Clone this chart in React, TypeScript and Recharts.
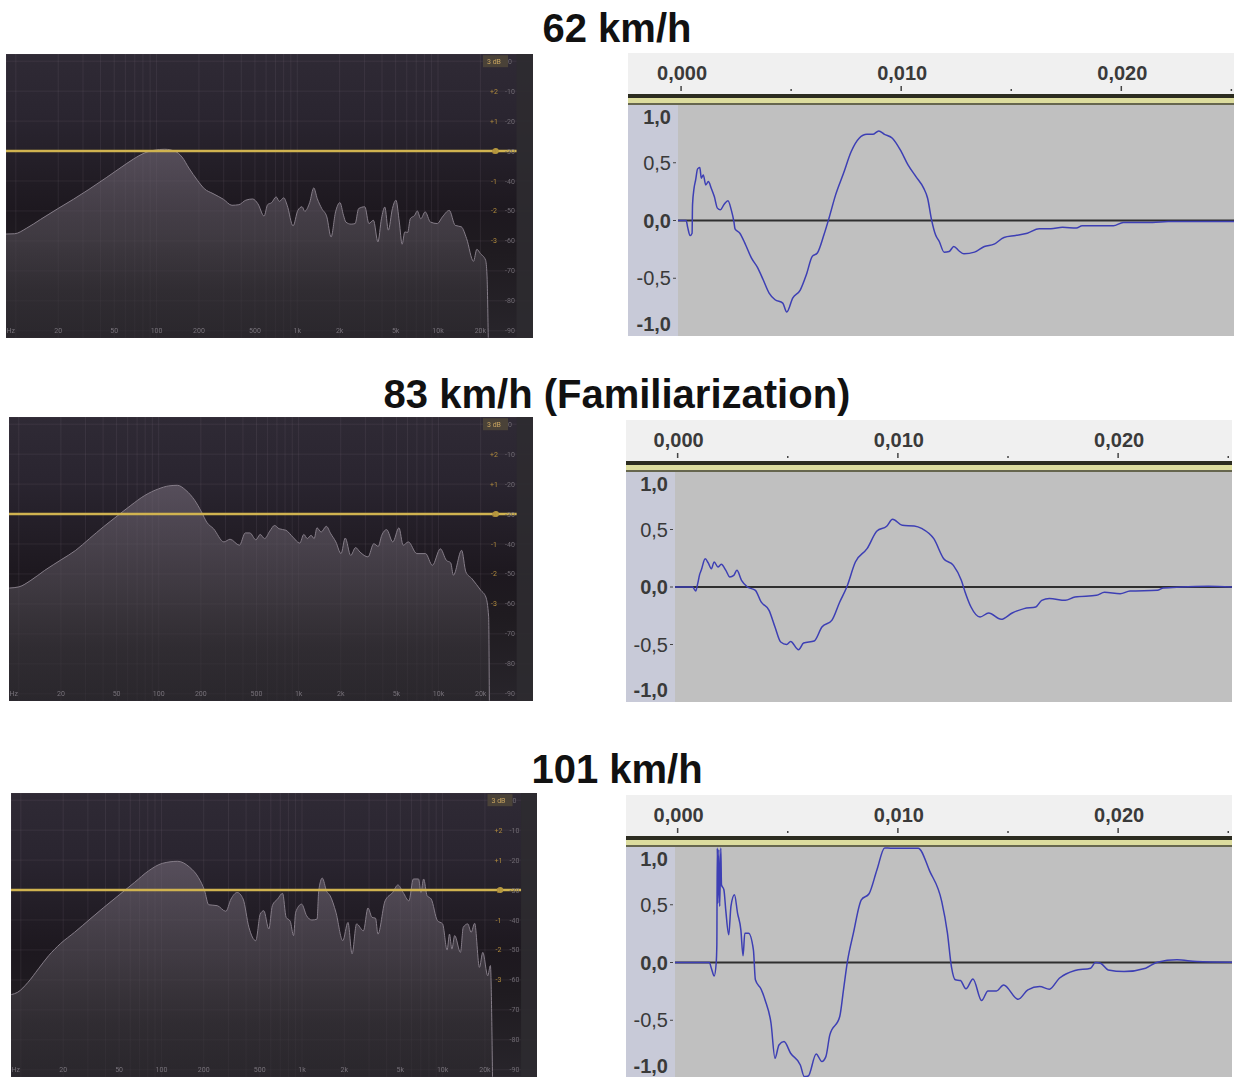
import React from "react";
import {
  AreaChart, Area, LineChart, Line, CartesianGrid, XAxis, YAxis,
  ReferenceLine, ReferenceArea, ReferenceDot,
} from "recharts";

// spectrum panels: x is log10(Hz), y is dB
const logHz62 = [0.93, 0.992, 1.078, 1.176, 1.299, 1.409, 1.519, 1.642, 1.74, 1.838, 1.911, 1.985, 2.058, 2.132, 2.181, 2.23, 2.291, 2.34, 2.401, 2.475, 2.536, 2.585, 2.634, 2.683, 2.72, 2.764, 2.789, 2.818, 2.85, 2.872, 2.904, 2.928, 2.97, 3.004, 3.034, 3.053, 3.088, 3.117, 3.142, 3.174, 3.21, 3.24, 3.272, 3.303, 3.328, 3.345, 3.382, 3.411, 3.436, 3.48, 3.509, 3.541, 3.573, 3.598, 3.622, 3.647, 3.676, 3.701, 3.725, 3.745, 3.764, 3.784, 3.803, 3.835, 3.853, 3.877, 3.909, 3.946, 3.995, 4.031, 4.08, 4.122, 4.166, 4.203, 4.252, 4.276, 4.301, 4.338, 4.348, 4.357];
const db62 = [-57.7, -57.6, -55.7, -52.8, -49.2, -46.1, -42.8, -38.9, -35.7, -32.6, -30.7, -29.7, -29.4, -30.1, -32, -35.7, -39.8, -42.6, -44.2, -46.1, -48.1, -47.9, -46.4, -46, -47.6, -51.7, -47.9, -47.2, -45.3, -46.8, -45.6, -48.1, -55, -49.8, -48.6, -50.1, -47.2, -42.3, -45.9, -49.2, -52, -58.7, -50.3, -47.2, -51.4, -53.7, -54.4, -54.2, -49.2, -48.6, -54.2, -53.1, -60.3, -52.6, -48.7, -56.4, -49.2, -46.4, -53.7, -61.1, -57, -57.2, -52.6, -51.4, -50, -52.6, -50.3, -53.7, -54.2, -52, -49.8, -54.8, -55.3, -59.2, -66.8, -62.8, -64.2, -66.4, -71.4, -92.3];

const logHz83 = [0.932, 1.001, 1.087, 1.185, 1.308, 1.407, 1.505, 1.604, 1.702, 1.801, 1.9, 1.998, 2.072, 2.133, 2.195, 2.257, 2.306, 2.343, 2.392, 2.466, 2.51, 2.577, 2.619, 2.651, 2.695, 2.725, 2.757, 2.794, 2.828, 2.86, 2.909, 2.959, 3.008, 3.037, 3.062, 3.089, 3.111, 3.131, 3.161, 3.198, 3.23, 3.266, 3.303, 3.333, 3.372, 3.407, 3.439, 3.496, 3.537, 3.569, 3.594, 3.629, 3.673, 3.717, 3.747, 3.784, 3.845, 3.907, 3.956, 4.013, 4.055, 4.087, 4.106, 4.165, 4.195, 4.239, 4.301, 4.338, 4.358, 4.363];
const db83 = [-54.7, -54.3, -52.1, -48.8, -45.1, -42.1, -38.2, -34.3, -30.7, -27.1, -23.8, -21.6, -20.6, -20.4, -22.1, -25.4, -29.3, -32.7, -34.9, -39.3, -38.4, -40.4, -36.3, -36.3, -38.6, -36.8, -38.2, -35.7, -33.8, -34.9, -35.4, -37.7, -39.7, -36.8, -38.2, -37.1, -38.2, -34.6, -36, -34.1, -36.6, -39.3, -43.2, -38, -43.8, -41.2, -42.7, -44.3, -39.9, -40.8, -37.1, -35.2, -39.3, -34.6, -40.4, -39.3, -43.2, -43.2, -47.1, -41.6, -45.4, -46.3, -50.4, -42.1, -49.3, -51.6, -55.4, -57.7, -64.3, -92.3];

const logHz101 = [0.932, 0.978, 1.051, 1.125, 1.198, 1.284, 1.382, 1.492, 1.59, 1.7, 1.81, 1.908, 2.006, 2.116, 2.201, 2.263, 2.307, 2.336, 2.397, 2.458, 2.495, 2.539, 2.581, 2.622, 2.671, 2.703, 2.728, 2.764, 2.789, 2.826, 2.862, 2.887, 2.916, 2.94, 2.955, 2.997, 3.033, 3.07, 3.107, 3.119, 3.144, 3.175, 3.2, 3.241, 3.29, 3.327, 3.356, 3.388, 3.437, 3.469, 3.498, 3.523, 3.54, 3.591, 3.645, 3.682, 3.719, 3.76, 3.792, 3.829, 3.846, 3.865, 3.89, 3.919, 3.963, 4.0, 4.032, 4.049, 4.066, 4.086, 4.127, 4.147, 4.179, 4.203, 4.228, 4.262, 4.286, 4.321, 4.34, 4.355];
const db101 = [-64.9, -64.1, -60.8, -56.3, -51.9, -47.8, -44.1, -39.7, -35.8, -31.6, -27.4, -23.6, -21.1, -20.4, -22.4, -25.8, -30.2, -34.9, -35.2, -37.1, -33, -30.8, -33, -42.4, -46.9, -38, -36.9, -43, -35.2, -33, -31.1, -39.1, -40.4, -45.2, -37.4, -34.7, -38.6, -40, -39.7, -30.2, -26, -30.4, -31.9, -37.4, -46.9, -40.8, -51.3, -41.3, -43.6, -36, -39.1, -39.4, -44.7, -33.6, -30.8, -28.3, -30.8, -33.6, -26.3, -26.3, -30.8, -26.3, -31.9, -33, -40.2, -41.3, -50, -44.7, -49.7, -45.2, -50.8, -42.4, -41.3, -44.1, -41.1, -55.8, -50.8, -58.6, -55.2, -92.3];

const gridHz = [10, 20, 30, 40, 50, 60, 70, 80, 90, 100, 200, 300, 400, 500, 600, 700, 800, 900, 1000, 2000, 3000, 4000, 5000, 6000, 7000, 8000, 9000, 10000, 20000];
const hzLabels: Record<number, string> = { 10: "Hz", 20: "20", 50: "50", 100: "100", 200: "200", 500: "500", 1000: "1k", 2000: "2k", 5000: "5k", 10000: "10k", 20000: "20k" };
const dbTicks = [0, -10, -20, -30, -40, -50, -60, -70, -80, -90];
const gainLabels: Record<number, string> = { [-10]: "+2", [-20]: "+1", [-30]: "0", [-40]: "-1", [-50]: "-2", [-60]: "-3" };

// waveform panels: x in milliseconds, y is amplitude
const ms62 = [-0.14, 0.23, 0.3, 0.41, 0.5, 0.52, 0.59, 0.66, 0.75, 0.85, 0.92, 1.01, 1.12, 1.24, 1.37, 1.51, 1.65, 1.78, 1.96, 2.13, 2.28, 2.4, 2.45, 2.67, 2.93, 3.2, 3.47, 3.73, 4.0, 4.27, 4.62, 4.8, 5.07, 5.42, 5.69, 5.96, 6.19, 6.49, 6.72, 7.02, 7.38, 7.73, 8.09, 8.44, 8.71, 8.98, 9.24, 9.6, 9.96, 10.31, 10.67, 11.02, 11.2, 11.38, 11.56, 11.73, 11.95, 12.18, 12.39, 12.62, 12.85, 13.33, 13.78, 14.22, 14.67, 15.2, 15.73, 16.27, 16.8, 17.33, 17.96, 18.22, 19.64, 20.09, 21.42, 22.13, 25.12];
const amp62 = [0, 0, -0.06, -0.13, -0.11, 0.135, 0.28, 0.35, 0.447, 0.458, 0.366, 0.395, 0.308, 0.337, 0.28, 0.207, 0.107, 0.092, 0.141, 0.17, 0.092, -0.009, -0.072, -0.11, -0.21, -0.326, -0.406, -0.513, -0.628, -0.686, -0.715, -0.793, -0.672, -0.6, -0.47, -0.311, -0.282, -0.124, 0.02, 0.222, 0.409, 0.597, 0.712, 0.746, 0.746, 0.775, 0.746, 0.712, 0.611, 0.481, 0.38, 0.28, 0.193, 0.006, -0.124, -0.182, -0.274, -0.268, -0.225, -0.262, -0.288, -0.274, -0.225, -0.205, -0.147, -0.13, -0.11, -0.072, -0.072, -0.058, -0.066, -0.046, -0.046, -0.017, -0.017, -0.009, -0.009];

const ms83 = [-0.12, 0.68, 0.82, 0.91, 1.0, 1.07, 1.25, 1.39, 1.53, 1.66, 1.83, 1.98, 2.19, 2.37, 2.55, 2.69, 2.9, 3.17, 3.53, 3.79, 4.15, 4.42, 4.68, 4.95, 5.13, 5.49, 5.72, 6.2, 6.55, 7.0, 7.36, 7.68, 8.07, 8.6, 9.05, 9.49, 9.76, 10.2, 10.74, 11.1, 11.63, 12.08, 12.52, 12.88, 13.05, 13.32, 13.73, 14.12, 14.69, 15.19, 15.73, 16.26, 16.53, 16.88, 17.6, 18.04, 19.02, 19.38, 20.09, 20.54, 21.78, 22.05, 22.85, 24.1, 25.17];
const amp83 = [0, 0, -0.035, 0.029, 0.11, 0.145, 0.246, 0.209, 0.159, 0.217, 0.174, 0.197, 0.145, 0.087, 0.101, 0.145, 0.058, 0, -0.029, -0.13, -0.203, -0.348, -0.478, -0.499, -0.473, -0.545, -0.487, -0.47, -0.348, -0.29, -0.13, 0, 0.217, 0.333, 0.487, 0.528, 0.589, 0.536, 0.531, 0.507, 0.42, 0.246, 0.188, 0.058, -0.043, -0.174, -0.261, -0.226, -0.281, -0.226, -0.188, -0.174, -0.116, -0.101, -0.116, -0.087, -0.072, -0.046, -0.058, -0.035, -0.029, -0.009, 0, 0.006, 0];

const ms101 = [-0.12, 1.44, 1.53, 1.66, 1.75, 1.78, 1.8, 1.83, 1.87, 1.91, 1.96, 1.99, 2.1, 2.19, 2.32, 2.42, 2.58, 2.72, 2.87, 2.97, 3.05, 3.22, 3.44, 3.53, 3.79, 3.97, 4.24, 4.42, 4.6, 4.83, 5.13, 5.57, 5.75, 5.93, 6.29, 6.55, 6.73, 6.91, 7.36, 7.53, 7.71, 7.98, 8.34, 8.69, 9.05, 9.4, 9.67, 10.92, 11.45, 11.99, 12.25, 12.43, 12.61, 12.84, 13.09, 13.41, 13.8, 14.09, 14.48, 14.8, 15.46, 15.9, 16.44, 16.88, 17.33, 18.04, 18.75, 18.97, 19.2, 19.55, 20.27, 21.25, 21.78, 22.67, 23.56, 25.17];
const amp101 = [0, 0, -0.049, -0.116, -0.006, 0.153, 0.991, 0.514, 0.977, 0.486, 0.991, 0.673, 0.63, 0.442, 0.24, 0.486, 0.587, 0.428, 0.283, 0.058, 0.254, 0.254, 0.11, -0.15, -0.231, -0.324, -0.526, -0.829, -0.714, -0.685, -0.786, -0.887, -0.988, -0.983, -0.792, -0.858, -0.815, -0.627, -0.468, -0.237, 0.009, 0.254, 0.543, 0.595, 0.803, 0.991, 0.99, 0.99, 0.789, 0.529, 0.254, -0.035, -0.15, -0.156, -0.228, -0.142, -0.329, -0.246, -0.246, -0.194, -0.318, -0.237, -0.208, -0.231, -0.136, -0.069, -0.049, 0, -0.006, -0.064, -0.078, -0.049, 0.003, 0.023, 0.009, 0.003];

const msTicks = [0, 5, 10, 15, 20, 25];
const ampTicks = [-1, -0.5, 0, 0.5, 1];

const zip = (xs: number[], ys: number[], xKey: string, yKey: string) =>
  xs.map((x, i) => ({ [xKey]: x, [yKey]: ys[i] }));

const comma = (n: number, digits: number) => n.toFixed(digits).replace(".", ",");

function Spectrum({ id, left, top, width, xs, ys }: { id: string; left: number; top: number; width: number; xs: number[]; ys: number[] }) {
  const height = 284;
  const data = zip(xs, ys, "logHz", "db");
  return (
    <div style={{ position: "absolute", left, top, width, height, filter: "blur(0.45px)", background: "linear-gradient(180deg,#2f2a35 0%,#2a2530 22%,#1d181f 55%,#1f1b20 70%,#28252b 100%)" }}>
      <AreaChart width={width} height={height} data={data} margin={{ top: 0, right: 0, bottom: 0, left: 0 }}>
        <defs>
          <linearGradient id={id} x1="0" y1="0" x2="0" y2="1">
            <stop offset="0%" stopColor="#746a78" />
            <stop offset="45%" stopColor="#565059" />
            <stop offset="75%" stopColor="#39353b" />
            <stop offset="100%" stopColor="#2b282d" />
          </linearGradient>
        </defs>
        <ReferenceArea x1={4.558} x2={4.675} y1={-92.4} y2={2.4} fill="#2e2b30" fillOpacity={0.9} stroke="none" />
        <Area
          type="monotone" dataKey="db" baseValue={-92.4} stroke="#857d88" strokeWidth={1}
          fill={`url(#${id})`} isAnimationActive={false} dot={false} activeDot={false}
        />
        <CartesianGrid stroke="#9a8a9c" strokeOpacity={0.12} strokeWidth={1} />
        <XAxis
          dataKey="logHz" type="number" domain={[0.93, 4.675]} allowDataOverflow height={1} mirror
          ticks={gridHz.map((h) => Math.log10(h))} interval={0} axisLine={false} tickLine={false}
          tick={(p: any) => {
            const hz = Math.round(Math.pow(10, p.payload.value));
            const label = hzLabels[hz];
            if (!label) return <g />;
            return (
              <text x={p.x - (hz === 10 ? 5 : 0)} y={height - 5} textAnchor="middle" fontSize={7} fontFamily="Roboto" fill="#77727a">{label}</text>
            );
          }}
        />
        <YAxis
          type="number" domain={[-92.4, 2.4]} allowDataOverflow ticks={dbTicks} interval={0} width={1} mirror orientation="right"
          axisLine={false} tickLine={false}
          tick={(p: any) => {
            const v = p.payload.value;
            const gain = gainLabels[v];
            return (
              <g fontFamily="Roboto" fontSize={7}>
                {v === 0 && <rect x={width - 50} y={p.y - 6} width={25} height={12} fill="#4a4238" />}
                {v === 0 && <text x={width - 39} y={p.y + 2.5} textAnchor="middle" fill="#c9a560">3 dB</text>}
                {gain && <text x={width - 39} y={p.y + 2.5} textAnchor="middle" fill="#b08a3c">{gain}</text>}
                <text x={width - 23} y={p.y + 2.5} textAnchor="middle" fill="#6f6a72">{v}</text>
              </g>
            );
          }}
        />
        <ReferenceLine
          segment={[{ x: 0.93, y: -30 }, { x: 4.558, y: -30 }]}
          stroke="#d0b350" strokeWidth={2.6}
        />
        <ReferenceDot x={4.41} y={-30} r={3} fill="#b79a3f" stroke="none" />
      </AreaChart>
    </div>
  );
}

function Waveform({ left, top, width, plotHeight, stripWidth, xs, ys, msMin, msMax }: { left: number; top: number; width: number; plotHeight: number; stripWidth: number; xs: number[]; ys: number[]; msMin: number; msMax: number }) {
  const rulerHeight = 52;
  const height = rulerHeight + plotHeight;
  const data = zip(xs, ys, "ms", "amp");
  return (
    <div style={{ position: "absolute", left, top, width, height, overflow: "hidden" }}>
      <div style={{ position: "absolute", left: 0, top: 0, width, height: 41, background: "#f0f0f0" }} />
      <div style={{ position: "absolute", left: 0, top: 41, width, height: 4, background: "#2c2c20" }} />
      <div style={{ position: "absolute", left: 0, top: 45, width, height: 5, background: "#dcdc9e" }} />
      <div style={{ position: "absolute", left: 0, top: 50, width, height: 2, background: "#66664e" }} />
      <div style={{ position: "absolute", left: 0, top: rulerHeight, width: stripWidth, height: plotHeight, background: "#c8cad8" }} />
      <div style={{ position: "absolute", left: stripWidth, top: rulerHeight, width: width - stripWidth, height: plotHeight, background: "#c0c0c0" }} />
      <LineChart width={width} height={height} data={data} margin={{ top: 0, right: 0, bottom: 0, left: 0 }} style={{ position: "absolute", left: 0, top: 0 }}>
        <XAxis
          dataKey="ms" type="number" orientation="top" height={rulerHeight} domain={[msMin, msMax]} allowDataOverflow
          ticks={msTicks} interval={0} axisLine={false} tickLine={false}
          tick={(p: any) => {
            const v = p.payload.value;
            const major = v % 10 === 0;
            return (
              <g>
                <line x1={p.x} x2={p.x} y1={major ? 33 : 36} y2={38} stroke="#444" strokeWidth={1.5} />
                {major && (
                  <text x={p.x + 1} y={27} textAnchor="middle" fontFamily="Liberation Sans" fontWeight={700} fontSize={20} fill="#3a3a3a">
                    {comma(v / 1000, 3)}
                  </text>
                )}
              </g>
            );
          }}
        />
        <YAxis
          type="number" domain={[-1, 1]} allowDataOverflow width={stripWidth} ticks={ampTicks} interval={0}
          axisLine={false} tickLine={false}
          tick={(p: any) => {
            const v = p.payload.value;
            const edge = Math.abs(v) === 1;
            const dy = v === 1 ? 12 : v === -1 ? -12 : 0;
            return (
              <g>
                {!edge && <line x1={stripWidth - 5} x2={stripWidth - 2} y1={p.y} y2={p.y} stroke="#444" />}
                <text x={stripWidth - 7} y={p.y + dy + 7} textAnchor="end" fontFamily="Liberation Sans" fontWeight={edge || v === 0 ? 700 : 400} fontSize={20} fill="#3a3a3a">
                  {comma(v, 1)}
                </text>
              </g>
            );
          }}
        />
        <ReferenceLine y={0} stroke="#2f2f2f" strokeWidth={2} />
        <Line type="monotone" dataKey="amp" stroke="#3d3fb4" strokeWidth={1.5} dot={false} activeDot={false} isAnimationActive={false} />
      </LineChart>
    </div>
  );
}

const titleStyle: React.CSSProperties = {
  position: "absolute", left: 0, width: 1234, textAlign: "center",
  fontFamily: "Liberation Sans", fontWeight: 700, fontSize: 40, lineHeight: "40px", color: "#111",
};

export default function App() {
  return (
    <div style={{ position: "absolute", left: 0, top: 0, width: 1234, height: 1077, background: "#fff", overflow: "hidden" }}>
      <div style={{ ...titleStyle, top: 8 }}>62 km/h</div>
      <div style={{ ...titleStyle, top: 374 }}>83 km/h (Familiarization)</div>
      <div style={{ ...titleStyle, top: 749 }}>101 km/h</div>

      <Spectrum id="spec62" left={6} top={53.5} width={527} xs={logHz62} ys={db62} />
      <Spectrum id="spec83" left={9} top={417.3} width={524} xs={logHz83} ys={db83} />
      <Spectrum id="spec101" left={10.5} top={793.3} width={526.5} xs={logHz101} ys={db101} />

      <Waveform left={628} top={53} width={606} plotHeight={231} stripWidth={50} xs={ms62} ys={amp62} msMin={-0.14} msMax={25.12} />
      <Waveform left={626} top={420} width={606} plotHeight={230} stripWidth={49} xs={ms83} ys={amp83} msMin={-0.12} msMax={25.17} />
      <Waveform left={626} top={795} width={606} plotHeight={231} stripWidth={49} xs={ms101} ys={amp101} msMin={-0.12} msMax={25.17} />
    </div>
  );
}
